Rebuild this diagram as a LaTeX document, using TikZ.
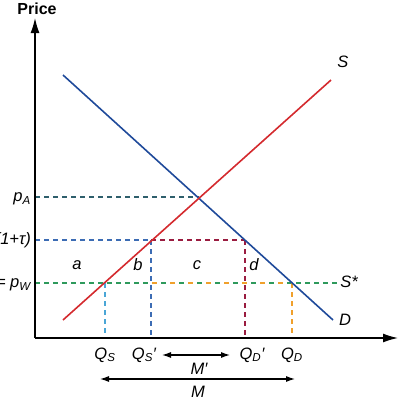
\documentclass[tikz,border=0pt]{standalone}
\usepackage{fontspec}
\setmainfont{Liberation Sans}
\usetikzlibrary{arrows.meta}
\definecolor{sred}{HTML}{D42A2E}
\definecolor{dblue}{HTML}{1F4A9A}
\definecolor{teal}{HTML}{2E5F6C}
\definecolor{mblue}{HTML}{3C6CB4}
\definecolor{dred}{HTML}{9A1C40}
\definecolor{sgreen}{HTML}{2E9A5C}
\definecolor{lblue}{HTML}{4AA6D6}
\definecolor{orng}{HTML}{F0A02C}
\tikzset{
  axis/.style={line width=1.4pt,-{Latex[length=15pt,width=9pt]}},
  curve/.style={line width=1.6pt},
  dsh/.style={line width=1.5pt,dash pattern=on 5pt off 4pt},
  lab/.style={font=\fontsize{16.5}{16.5}\selectfont\itshape,inner sep=0pt},
  dbl/.style={line width=1.1pt,{Latex[length=9pt,width=6pt]}-{Latex[length=9pt,width=6pt]}}
}
\begin{document}
\begin{tikzpicture}[x=1pt,y=-1pt]
\useasboundingbox (0,0) rectangle (400,400);
% coordinates
\coordinate (O) at (35,338);
\coordinate (Ytop) at (35,18);
\coordinate (Xend) at (398,338);
\coordinate (Ds) at (63,75);
\coordinate (De) at (333,320);
\coordinate (Ss) at (63,320);
\coordinate (Se) at (331,80);
\coordinate (YA) at (35,197);
\coordinate (EA) at (199,197);
\coordinate (YT) at (35,240);
\coordinate (QSp) at (151,240);
\coordinate (QDp) at (245,240);
\coordinate (YW) at (35,283);
\coordinate (WS) at (105,283);
\coordinate (WSp) at (151,283);
\coordinate (WD) at (292,283);
\coordinate (Wend) at (338,283);
\coordinate (BS) at (105,338);
\coordinate (BSp) at (151,338);
\coordinate (BDp) at (245,338);
\coordinate (BD) at (292,338);
\coordinate (Ma) at (162,355);
\coordinate (Mb) at (230,355);
\coordinate (Na) at (100,379);
\coordinate (Nb) at (295,379);
% dashed lines
\draw[dsh,teal] (YA) -- (EA);
\draw[dsh,mblue] (YT) -- (QSp);
\draw[dsh,dred] (QSp) -- (QDp);
\draw[dsh,sgreen] (YW) -- (Wend);
\draw[line width=1.5pt,orng,dash pattern=on 5pt off 13pt,dash phase=17pt] (WSp) -- (WD);
\draw[dsh,lblue] (WS) -- (BS);
\draw[dsh,mblue] (QSp) -- (BSp);
\draw[dsh,dred] (QDp) -- (BDp);
\draw[dsh,orng] (WD) -- (BD);
% curves
\draw[curve,dblue] (Ds) -- (De);
\draw[curve,sred] (Ss) -- (Se);
% axes
\draw[axis] (O) -- (Ytop);
\draw[axis] (O) -- (Xend);
% labels
\node[font=\fontsize{16}{16}\selectfont\bfseries,inner sep=0pt] (price) at (37,9) {Price};
\node[lab,anchor=east] (lpA) at (31,199) {p\textsubscript{\itshape A}};
\node[lab,anchor=east] (lpT) at (31,240) {(1+τ)};
\node[lab,anchor=east] (lpW) at (31,285) {= p\textsubscript{\itshape W}};
\node[lab] (la) at (77,265) {a};
\node[lab] (lb) at (138,265) {b};
\node[lab] (lc) at (197,265) {c};
\node[lab] (ld) at (254,265) {d};
\node[lab] (lS) at (343,62) {S};
\node[lab] (lD) at (345,320) {D};
\node[lab] (lSs) at (349,282) {S*};
\node[lab] (lQS) at (105,355) {Q\textsubscript{\itshape S}};
\node[lab] (lQSp) at (144,355) {Q\textsubscript{\itshape S}′};
\node[lab] (lQDp) at (252,355) {Q\textsubscript{\itshape D}′};
\node[lab] (lQD) at (292,355) {Q\textsubscript{\itshape D}};
\draw[dbl] (Ma) -- (Mb);
\draw[dbl] (Na) -- (Nb);
\node[lab] (lMp) at (199,369) {M′};
\node[lab] (lM) at (198,392) {M};
\end{tikzpicture}
\end{document}
